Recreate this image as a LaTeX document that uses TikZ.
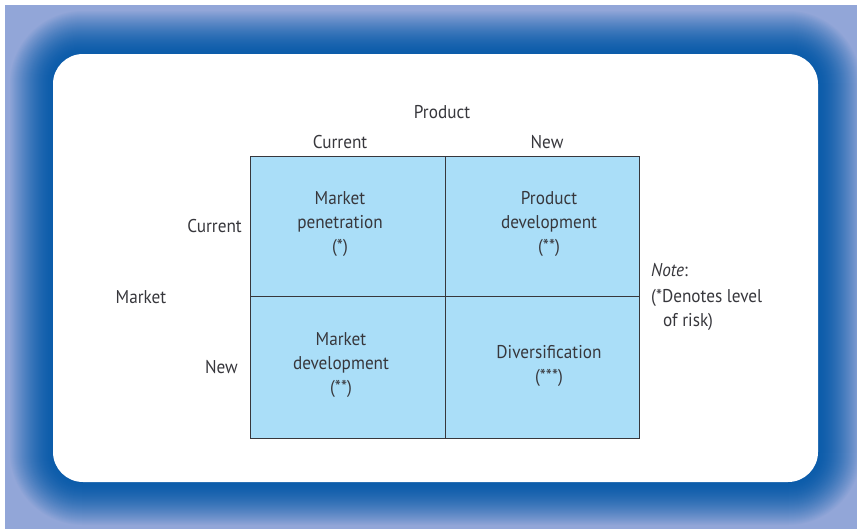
\documentclass[tikz,border=0pt]{standalone}
\usepackage{fontspec}
\setmainfont{PT Sans}[FakeStretch=0.93]
\definecolor{frameL}{RGB}{146,166,216}
\definecolor{frameD}{RGB}{12,92,170}
\definecolor{cellfill}{RGB}{170,222,248}
\definecolor{linec}{RGB}{55,55,60}
\definecolor{txt}{RGB}{55,55,60}
\tikzset{
  lbl/.style={text=txt,font=\fontsize{18.5}{24}\selectfont,inner sep=0pt,align=center},
  cell/.style={draw=linec,line width=1.2pt,fill=cellfill}
}
\begin{document}
\begin{tikzpicture}[x=1pt,y=-1pt]
\useasboundingbox (0,0) rectangle (857,528);
\fill[white] (0,0) rectangle (857,528);
\begin{scope}
\clip (5,5) rectangle (870,540);
\fill[frameL] (5,5) rectangle (870,540);
\foreach \d in {48,47,...,0}{
  \pgfmathsetmacro{\p}{100*(1-((\d/44)^1.6))}
  \pgfmathsetmacro{\q}{max(0,min(100,\p))}
  \fill[frameD!\q!frameL, rounded corners=30+\d] (53-\d,54-\d) rectangle (818+\d,482+\d);
}
\end{scope}
\fill[white, rounded corners=30] (53,54) rectangle (818,482);
% grid
\node[cell,minimum width=195,minimum height=140,anchor=north west,inner sep=0pt] (c11) at (250,156) {};
\node[cell,minimum width=194,minimum height=140,anchor=north west,inner sep=0pt] (c12) at (445,156) {};
\node[cell,minimum width=195,minimum height=142,anchor=north west,inner sep=0pt] (c21) at (250,296) {};
\node[cell,minimum width=194,minimum height=142,anchor=north west,inner sep=0pt] (c22) at (445,296) {};
% texts
\node[lbl] (prod) at (442,112) {Product};
\node[lbl] (pc) at (340,142) {Current};
\node[lbl] (pn) at (547,142) {New};
\node[lbl,anchor=east] (mc) at (242,226) {Current};
\node[lbl] (mk) at (141,297) {Market};
\node[lbl,anchor=east] (mn) at (238,367) {New};
\node[lbl] (t11) at (340,224) {Market\\penetration\\(*)};
\node[lbl] (t12) at (549,224) {Product\\development\\(**)};
\node[lbl] (t21) at (341,365) {Market\\development\\(**)};
\node[lbl] (t22) at (549,366) {Diversification\\(***)};
\node[lbl,anchor=west] (n1) at (651,270) {\itshape Note\upshape :};
\node[lbl,anchor=west] (n2) at (651,298) {(*Denotes level};
\node[lbl,anchor=west] (n3) at (663,322) {of risk)};
\end{tikzpicture}
\end{document}
